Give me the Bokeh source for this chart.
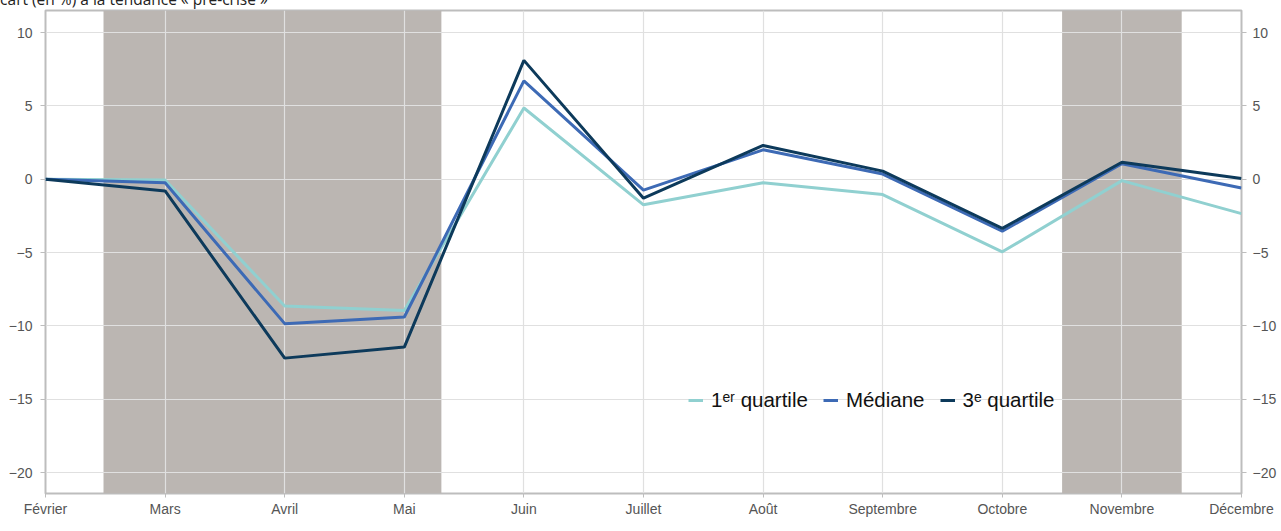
from bokeh.plotting import figure
from bokeh.models import Range1d, LinearAxis, FixedTicker, BoxAnnotation, Label, Legend, LegendItem
from bokeh.embed import file_html
from bokeh.resources import INLINE

# ---- data ----
months = ["Février", "Mars", "Avril", "Mai", "Juin", "Juillet", "Août",
          "Septembre", "Octobre", "Novembre", "Décembre"]
q1 = [0, -0.05, -8.65, -8.95, 4.85, -1.75, -0.25, -1.05, -4.95, -0.1, -2.35]
mediane = [0, -0.25, -9.85, -9.4, 6.7, -0.75, 2.0, 0.35, -3.55, 1.05, -0.6]
q3 = [0, -0.8, -12.2, -11.45, 8.1, -1.3, 2.3, 0.55, -3.35, 1.15, 0.05]
band_start = [0.485, 8.5]
band_end = [3.31, 9.5]
y_ticks = [-20, -15, -10, -5, 0, 5, 10]
title_text = "Écart (en %) à la tendance « pré-crise »"
year_text = "2020"

x = list(range(len(months)))

p = figure(width=1281, height=546, output_backend="svg", toolbar_location=None,
           x_range=Range1d(0, 10), y_range=Range1d(-21.43, 11.5),
           min_border_left=45, min_border_right=40, min_border_top=17, min_border_bottom=38,
           styles={"margin-top": "-15px", "margin-left": "0px",
                   "margin-bottom": "-15px", "margin-right": "0px"})

p.title.text = title_text
p.title.align = "left"
p.title.offset = -54
p.title.standoff = 1
p.title.text_font = "Open Sans"
p.title.text_font_size = "15.5px"
p.title.text_font_style = "normal"
p.title.text_color = "#222222"

p.outline_line_color = "#bdbdbd"
p.outline_line_width = 2
p.background_fill_color = "white"
p.border_fill_color = "white"

for s, e in zip(band_start, band_end):
    p.add_layout(BoxAnnotation(left=s, right=e, fill_color="#bbb6b2", fill_alpha=1.0,
                               line_alpha=0, level="image"))

font = "Liberation Sans"
label_color = "#555555"

# axes
p.xaxis.ticker = FixedTicker(ticks=x)
p.xaxis.major_label_overrides = {i: m for i, m in enumerate(months)}
p.yaxis.ticker = FixedTicker(ticks=y_ticks)
p.yaxis.major_label_overrides = {t: (str(t).replace("-", "\u2212")) for t in y_ticks}

right_axis = LinearAxis(ticker=FixedTicker(ticks=y_ticks))
right_axis.major_label_overrides = {t: (str(t).replace("-", "\u2212")) for t in y_ticks}
p.add_layout(right_axis, "right")

for ax in [p.xaxis[0], p.yaxis[0], right_axis]:
    ax.axis_line_color = None
    ax.major_tick_line_color = "#bdbdbd"
    ax.major_tick_line_width = 1
    ax.major_tick_in = 0
    ax.major_tick_out = 5
    ax.minor_tick_line_color = None
    ax.major_label_text_font = font
    ax.major_label_text_font_size = "14px"
    ax.major_label_text_color = label_color

p.xaxis.major_tick_out = 4
p.xaxis.major_label_standoff = 3
p.yaxis.major_label_standoff = 8
right_axis.major_label_standoff = 6

p.xgrid.ticker = FixedTicker(ticks=x)
p.ygrid.ticker = FixedTicker(ticks=y_ticks)
for g in [p.xgrid[0], p.ygrid[0]]:
    g.grid_line_color = "#e0e0e0"
    g.grid_line_width = 1.2

r1 = p.line(x, q1, line_color="#90d0d0", line_width=3)
r2 = p.line(x, mediane, line_color="#3d6ab5", line_width=3)
r3 = p.line(x, q3, line_color="#0d3a5b", line_width=3)

legend = Legend(items=[LegendItem(label="1\u1d49\u02b3 quartile", renderers=[r1]),
                       LegendItem(label="Médiane", renderers=[r2]),
                       LegendItem(label="3\u1d49 quartile", renderers=[r3])],
                orientation="horizontal", location=(643, 81),
                padding=0, margin=0, spacing=15, label_standoff=8,
                glyph_width=15, glyph_height=20,
                background_fill_alpha=0, border_line_alpha=0,
                label_text_font=font, label_text_font_size="20.5px",
                label_text_color="#111111")
p.add_layout(legend)

p.add_layout(Label(x=0, y=-23.6, x_offset=-23, text=year_text, text_font=font,
                   text_font_size="14px", text_baseline="top", text_align="left",
                   text_color=label_color))

open("out.html", "w").write(file_html(p, INLINE))
